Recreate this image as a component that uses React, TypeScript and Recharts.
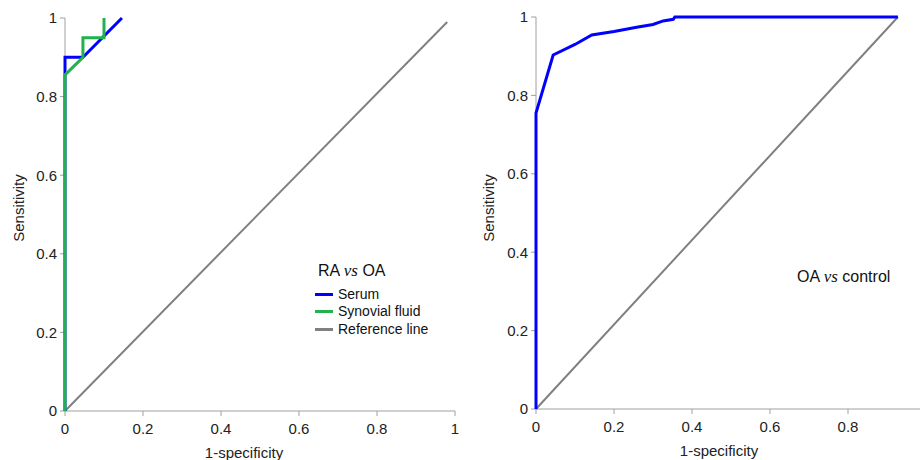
import React from 'react';
import { LineChart, Line, XAxis, YAxis, Legend, Label } from 'recharts';

const axisTicks = [0, 0.2, 0.4, 0.6, 0.8, 1];

// RA vs OA (left panel)
const raSerumX = [0, 0, 0.046, 0.146];
const raSerumY = [0, 0.9, 0.9, 1];
const raSynovialX = [0, 0, 0.046, 0.046, 0.1, 0.1];
const raSynovialY = [0, 0.855, 0.9, 0.95, 0.95, 1];
const raRefX = [0, 0.98];
const raRefY = [0, 0.99];

// OA vs control (right panel)
const oaSerumX = [0, 0, 0.044, 0.1, 0.143, 0.2, 0.258, 0.3, 0.326, 0.352, 0.356, 0.928];
const oaSerumY = [0, 0.755, 0.903, 0.93, 0.954, 0.963, 0.974, 0.981, 0.99, 0.994, 1, 1];
const oaRefX = [0, 0.928];
const oaRefY = [0, 1];

const legendItems = [
  { name: 'Serum', color: '#0000ff' },
  { name: 'Synovial fluid', color: '#22b14c' },
  { name: 'Reference line', color: '#808080' },
];

const pts = (xs: number[], ys: number[]) => xs.map((x, i) => ({ x, y: ys[i] }));

const FONT = 'Arial, "Liberation Sans", sans-serif';
const AXIS = '#a0a0a0';

const Title = ({ a, b }: { a: string; b: string }) => (
  <span>
    {a} <i style={{ fontFamily: '"Liberation Serif", "Times New Roman", serif', fontSize: 17 }}>vs</i> {b}
  </span>
);

interface PanelProps {
  left: number;
  width: number;
  margin: { top: number; right: number; bottom: number; left: number };
  yAxisWidth: number;
  xLabelDx: number;
  xLabelDy: number;
  series: { key: string; data: { x: number; y: number }[]; color: string; width: number }[];
  legend: React.ReactNode;
  legendPos: { left: number; top: number };
}

const Panel: React.FC<PanelProps> = (p) => (
  <div style={{ position: 'absolute', left: p.left, top: 0 }}>
    <LineChart width={p.width} height={460} margin={p.margin}>
      <XAxis
        type="number"
        dataKey="x"
        domain={[0, 1]}
        ticks={axisTicks}
        stroke={AXIS}
        tickSize={5}
        tickMargin={7}
        height={40}
        tick={{ fill: '#222', fontSize: 15, fontFamily: FONT }}
        tickFormatter={(v: number) => String(v)}
      >
        <Label
          content={({ viewBox }: any) => (
            <text
              x={viewBox.x + viewBox.width / 2 + p.xLabelDx}
              y={viewBox.y + p.xLabelDy}
              textAnchor="middle"
              fill="#222"
              fontSize={15}
              fontFamily={FONT}
            >
              1-specificity
            </text>
          )}
        />
      </XAxis>
      <YAxis
        type="number"
        dataKey="y"
        domain={[0, 1]}
        ticks={axisTicks}
        stroke={AXIS}
        tickSize={5}
        tickMargin={3}
        width={p.yAxisWidth}
        tick={{ fill: '#222', fontSize: 15, fontFamily: FONT }}
        tickFormatter={(v: number) => String(v)}
      >
        <Label
          content={({ viewBox }: any) => {
            const cx = viewBox.x + 18;
            const cy = 208;
            return (
              <text
                x={cx}
                y={cy}
                transform={`rotate(-90 ${cx} ${cy})`}
                textAnchor="middle"
                dominantBaseline="central"
                fill="#222"
                fontSize={15}
                fontFamily={FONT}
              >
                Sensitivity
              </text>
            );
          }}
        />
      </YAxis>
      {p.series.map((s) => (
        <Line
          key={s.key}
          data={s.data}
          dataKey="y"
          type="linear"
          stroke={s.color}
          strokeWidth={s.width}
          dot={false}
          activeDot={false}
          isAnimationActive={false}
          zIndex={600}
        />
      ))}
      <Legend
        layout="vertical"
        align="center"
        verticalAlign="middle"
        wrapperStyle={{ left: p.legendPos.left, top: p.legendPos.top, width: 'auto' }}
        content={() => p.legend}
      />
    </LineChart>
  </div>
);

export default function App() {
  const leftLegend = (
    <div style={{ fontFamily: FONT, fontSize: 14, color: '#111', lineHeight: '17.5px' }}>
      <div style={{ marginBottom: 6, fontSize: 16, paddingLeft: 9 }}>
        <Title a="RA" b="OA" />
      </div>
      {legendItems.map((d) => (
        <div key={d.name} style={{ display: 'flex', alignItems: 'center', paddingLeft: 6 }}>
          <span style={{ width: 18, height: 3, background: d.color, marginRight: 5 }} />
          <span>{d.name}</span>
        </div>
      ))}
    </div>
  );
  const rightLegend = (
    <div style={{ fontFamily: FONT, fontSize: 16, color: '#111' }}>
      <Title a="OA" b="control" />
    </div>
  );

  return (
    <div
      style={{
        position: 'absolute',
        left: 0,
        top: 0,
        width: 920,
        height: 460,
        overflow: 'hidden',
        background: '#fff',
      }}
    >
      <Panel
        left={0}
        width={460}
        margin={{ top: 18, right: 5, bottom: 9, left: 0 }}
        yAxisWidth={65}
        xLabelDx={-16}
        xLabelDy={47}
        series={[
          { key: 'ref', data: pts(raRefX, raRefY), color: '#808080', width: 2 },
          { key: 'serum', data: pts(raSerumX, raSerumY), color: '#0000ff', width: 3 },
          { key: 'syn', data: pts(raSynovialX, raSynovialY), color: '#22b14c', width: 3 },
        ]}
        legend={leftLegend}
        legendPos={{ left: 309, top: 262 }}
      />
      <Panel
        left={470}
        width={466}
        margin={{ top: 17, right: 10, bottom: 11, left: 0 }}
        yAxisWidth={66}
        xLabelDx={-12}
        xLabelDy={47}
        series={[
          { key: 'ref', data: pts(oaRefX, oaRefY), color: '#808080', width: 2 },
          { key: 'serum', data: pts(oaSerumX, oaSerumY), color: '#0000ff', width: 3 },
        ]}
        legend={rightLegend}
        legendPos={{ left: 327, top: 267 }}
      />
    </div>
  );
}
